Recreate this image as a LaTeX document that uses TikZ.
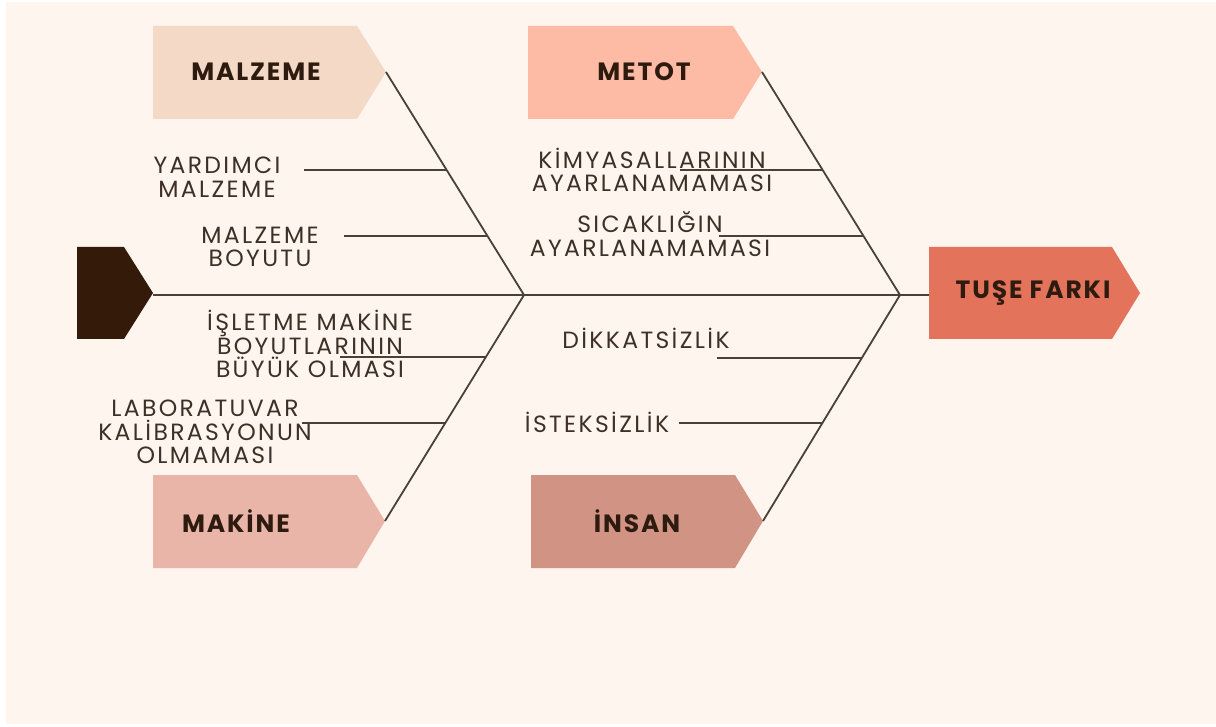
\documentclass[tikz,border=0pt]{standalone}
\usepackage{fontspec}
\setmainfont{Poppins}
\usetikzlibrary{calc}
\definecolor{bgc}{HTML}{FDF5EE}
\definecolor{linec}{HTML}{4B4036}
\definecolor{subc}{HTML}{3D3028}
\definecolor{headc}{HTML}{2E1B10}
\definecolor{darkc}{HTML}{331A09}
\definecolor{malzc}{HTML}{F4D9C6}
\definecolor{metc}{HTML}{FDBAA5}
\definecolor{makc}{HTML}{E9B5A8}
\definecolor{insc}{HTML}{D19384}
\definecolor{tusc}{HTML}{E4735C}
\begin{document}
\begin{tikzpicture}[x=1pt,y=-1pt,
  bone/.style={draw=linec,line width=1.8pt},
  subline/.style={draw=linec,line width=1.8pt},
  subtext/.style={font=\fontsize{23.5}{23.5}\selectfont\addfontfeatures{LetterSpace=10},text=subc,align=center,inner sep=0pt},
  headtext/.style={font=\bfseries\fontsize{25}{24}\selectfont\addfontfeatures{LetterSpace=7.5},text=headc,inner sep=0pt}]
\useasboundingbox (0,0) rectangle (1216,727);
\fill[white] (0,0) rectangle (1216,727);
\fill[bgc] (6,2) rectangle (1216,724);

% boxes
\fill[malzc] (153,26) -- (357,26) -- (386,72) -- (357,119) -- (153,119) -- cycle;
\fill[metc] (528,26) -- (733,26) -- (762,72) -- (733,119) -- (528,119) -- cycle;
\fill[makc] (153,475) -- (357,475) -- (385,521) -- (357,568) -- (153,568) -- cycle;
\fill[insc] (531,475) -- (735,475) -- (763,521) -- (735,568) -- (531,568) -- cycle;
\fill[tusc] (929,247) -- (1112,247) -- (1140,293) -- (1112,339) -- (929,339) -- cycle;
\fill[darkc] (77,247) -- (124,247) -- (153,293) -- (124,339) -- (77,339) -- cycle;

% key points
\coordinate (tail) at (153,295);
\coordinate (j1) at (524,295);
\coordinate (j2) at (900,295);
\coordinate (tuseL) at (929,295);
\coordinate (mzTip) at (386,72);
\coordinate (mkTip) at (385,521);
\coordinate (mtTip) at (762,72);
\coordinate (inTip) at (763,521);

% spine and bones
\draw[bone] (tail) -- (j1) -- (j2) -- (tuseL);
\draw[bone] (mzTip) -- (j1);
\draw[bone] (mkTip) -- (j1);
\draw[bone] (mtTip) -- (j2);
\draw[bone] (inTip) -- (j2);

% sub-lines
\coordinate (a1) at (304,170); \coordinate (b1) at (446,170);
\coordinate (a2) at (344,236); \coordinate (b2) at (487,236);
\coordinate (a3) at (340,357); \coordinate (b3) at (486,357);
\coordinate (a4) at (302,423); \coordinate (b4) at (445,423);
\coordinate (a5) at (680,170); \coordinate (b5) at (823,170);
\coordinate (a6) at (719,236); \coordinate (b6) at (863,236);
\coordinate (a7) at (717,358); \coordinate (b7) at (862,358);
\coordinate (a8) at (679,423); \coordinate (b8) at (822,423);
\foreach \i in {1,...,8} {\draw[subline] (a\i) -- (b\i);}

% head labels
\node[headtext] (hMalz) at (256,72) {MALZEME};
\node[headtext] (hMet) at (644,72) {METOT};
\node[headtext] (hMak) at (236,521) {MAKİNE};
\node[headtext] (hIns) at (637,521) {İNSAN};
\node[headtext] (hTus) at (1033,293) {TUŞE FARKI};

% cause labels
\node[subtext] (t1) at (217,177) {YARDIMCI\\MALZEME};
\node[subtext] (t2) at (260,247) {MALZEME\\BOYUTU};
\node[subtext] (t3) at (310,344) {İŞLETME MAKİNE\\BOYUTLARININ\\BÜYÜK OLMASI};
\node[subtext] (t4) at (205,432) {LABORATUVAR\\KALİBRASYONUN\\OLMAMASI};
\node[subtext] (t5) at (652,170) {KİMYASALLARININ\\AYARLANAMAMASI};
\node[subtext] (t6) at (650,234) {SICAKLIĞIN\\AYARLANAMAMASI};
\node[subtext] (t7) at (646,338) {DİKKATSİZLİK};
\node[subtext] (t8) at (597,422) {İSTEKSİZLİK};
\end{tikzpicture}
\end{document}
